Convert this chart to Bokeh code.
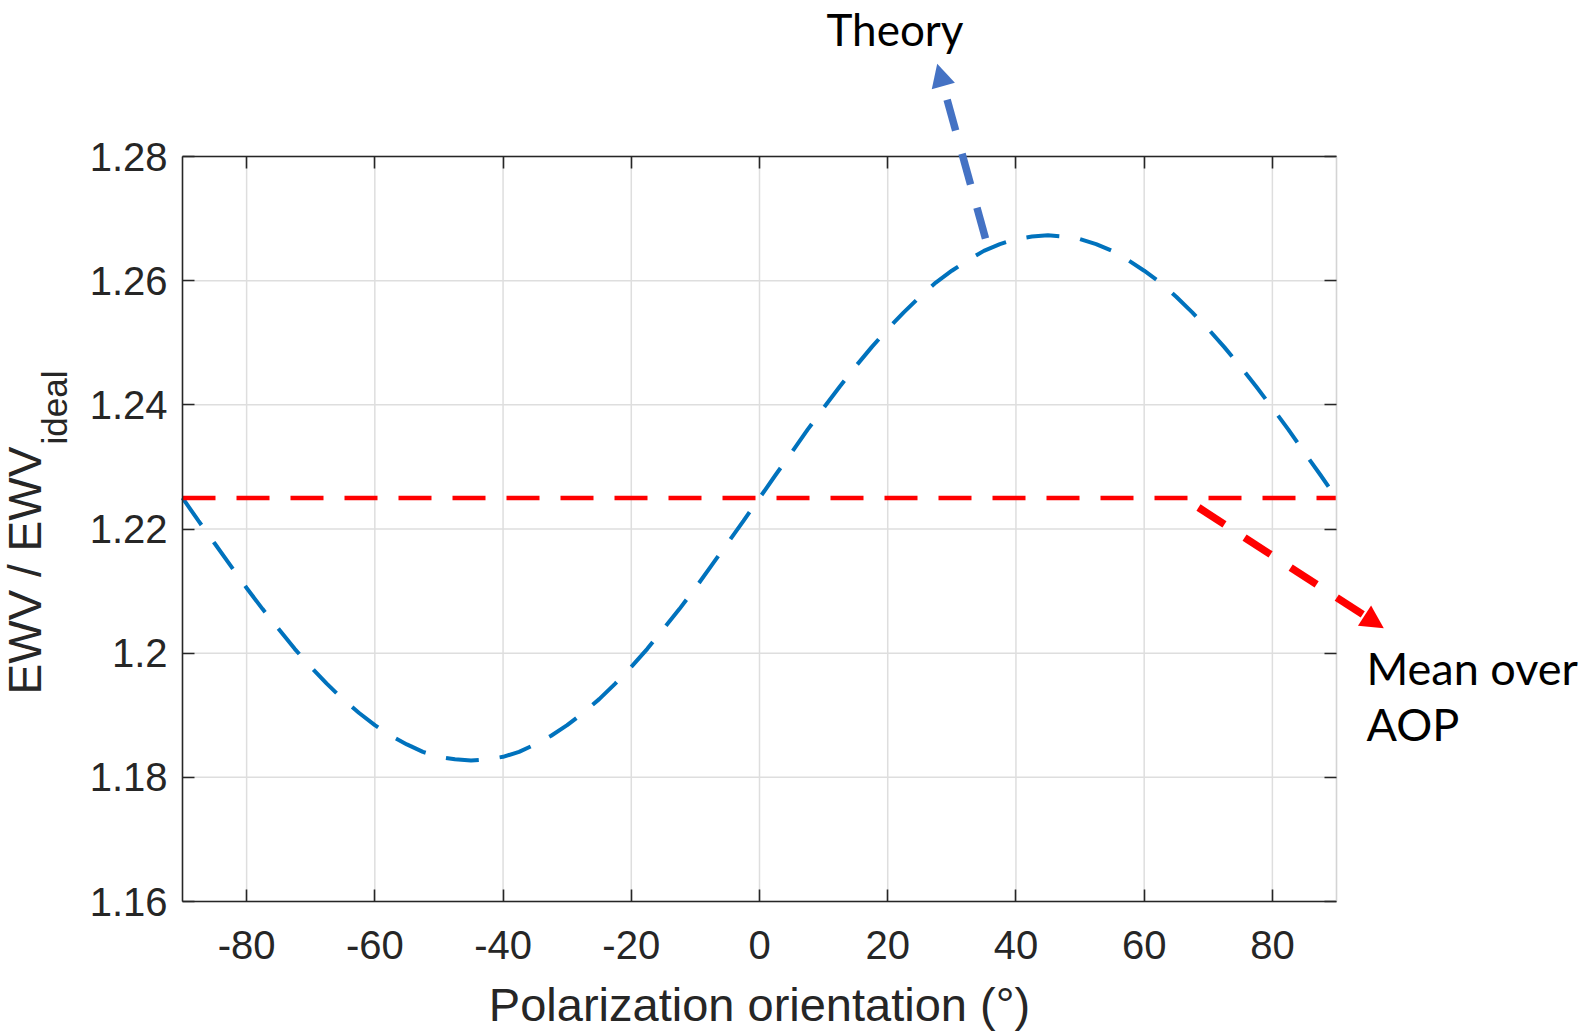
import math
from bokeh.plotting import figure
from bokeh.models import (LinearAxis, FixedTicker, Label, PolyAnnotation,
                          CustomJSTickFormatter, Range1d)
from bokeh.embed import file_html
from bokeh.resources import INLINE

# ---------------- data ----------------
theta_deg = [-90, -87.5, -85, -82.5, -80, -77.5, -75, -72.5, -70, -67.5, -65, -62.5,
             -60, -57.5, -55, -52.5, -50, -47.5, -45, -42.5, -40, -37.5, -35, -32.5,
             -30, -27.5, -25, -22.5, -20, -17.5, -15, -12.5, -10, -7.5, -5, -2.5,
             0, 2.5, 5, 7.5, 10, 12.5, 15, 17.5, 20, 22.5, 25, 27.5, 30, 32.5, 35,
             37.5, 40, 42.5, 45, 47.5, 50, 52.5, 55, 57.5, 60, 62.5, 65, 67.5, 70,
             72.5, 75, 77.5, 80, 82.5, 85, 87.5, 90]
ewv_ratio = [1.2250, 1.2213, 1.2177, 1.2141, 1.2105, 1.2071, 1.2039, 1.2007, 1.1978,
             1.1951, 1.1926, 1.1904, 1.1884, 1.1867, 1.1853, 1.1841, 1.1833, 1.1829,
             1.1827, 1.1829, 1.1833, 1.1841, 1.1853, 1.1867, 1.1884, 1.1904, 1.1926,
             1.1951, 1.1978, 1.2007, 1.2039, 1.2071, 1.2105, 1.2141, 1.2177, 1.2213,
             1.2250, 1.2287, 1.2323, 1.2360, 1.2395, 1.2429, 1.2462, 1.2493, 1.2522,
             1.2549, 1.2574, 1.2597, 1.2616, 1.2633, 1.2648, 1.2659, 1.2667, 1.2671,
             1.2673, 1.2671, 1.2667, 1.2659, 1.2648, 1.2633, 1.2616, 1.2597, 1.2574,
             1.2549, 1.2522, 1.2493, 1.2462, 1.2429, 1.2395, 1.2360, 1.2323, 1.2287,
             1.2250]
mean_over_aop = 1.225

x_ticks = [-80, -60, -40, -20, 0, 20, 40, 60, 80]
x_tick_labels = ["-80", "-60", "-40", "-20", "0", "20", "40", "60", "80"]
y_ticks = [1.16, 1.18, 1.2, 1.22, 1.24, 1.26, 1.28]
y_tick_labels = ["1.16", "1.18", "1.2", "1.22", "1.24", "1.26", "1.28"]

x_label = "Polarization orientation (°)"
y_label_main = "EWV / EWV"
y_label_sub = "ideal"
theory_text = "Theory"
mean_text_lines = ["Mean over", "AOP"]

# ---------------- layout / styles ----------------
W, H = 1582, 1033
FL, FT, FW, FH = 182, 156, 1154, 745          # axes box in canvas pixels
X0, X1, Y0, Y1 = -90, 90, 1.16, 1.28          # axes limits

AX = "#262626"
GRID = "#dedede"
BLUE = "#0072BD"
RED = "#FF0000"
ARROW_BLUE = "#4472C4"
TICK_FONT = "Liberation Sans"
NOTE_FONT = "Lato"


def px_to_data(px, py):
    """Canvas pixel -> data coordinates (used only to place decorations)."""
    return (X0 + (px - FL) * (X1 - X0) / FW, Y1 - (py - FT) * (Y1 - Y0) / FH)


# The plotting frame covers the whole canvas so that the texts and callouts
# outside the axes box are not clipped; the axes are pinned to the box edges.
xr = Range1d(px_to_data(0, 0)[0], px_to_data(W, 0)[0])
yr = Range1d(px_to_data(0, H)[1], px_to_data(0, 0)[1])

p = figure(width=W, height=H, x_range=xr, y_range=yr,
           x_axis_location=None, y_axis_location=None,
           output_backend="svg", toolbar_location=None, min_border=0,
           background_fill_color="white", border_fill_color="white")
p.outline_line_color = None
p.grid.visible = False


def style_axis(ax, line_color=AX):
    ax.axis_line_color = line_color
    ax.axis_line_width = 1.6
    ax.major_tick_line_color = AX
    ax.major_tick_line_width = 1.6
    ax.major_tick_in = 12
    ax.major_tick_out = 0
    ax.minor_tick_in = 0
    ax.minor_tick_out = 0
    ax.major_label_text_color = AX
    ax.major_label_text_font = TICK_FONT


# grid lines at the tick positions, inside the axes box
p.segment(x0=x_ticks, y0=[Y0] * len(x_ticks), x1=x_ticks, y1=[Y1] * len(x_ticks),
          line_color=GRID, line_width=1.5)
p.segment(x0=[X0] * len(y_ticks), y0=y_ticks, x1=[X1] * len(y_ticks), y1=y_ticks,
          line_color=GRID, line_width=1.5)

# axes
xa = LinearAxis(ticker=FixedTicker(ticks=x_ticks), fixed_location=Y0, bounds=(X0, X1))
xa.major_label_overrides = {t: l for t, l in zip(x_ticks, x_tick_labels)}
style_axis(xa)
xa.major_label_text_font_size = "40px"
xa.major_label_standoff = 29
xa.axis_label = x_label
xa.axis_label_text_font = TICK_FONT
xa.axis_label_text_font_size = "47px"
xa.axis_label_text_font_style = "normal"
xa.axis_label_text_color = AX
xa.axis_label_standoff = 16
p.add_layout(xa, "below")

ya = LinearAxis(ticker=FixedTicker(ticks=y_ticks), fixed_location=X0, bounds=(Y0, Y1))
ya.major_label_overrides = {t: l for t, l in zip(y_ticks, y_tick_labels)}
style_axis(ya)
ya.major_label_text_font_size = "40px"
ya.major_label_standoff = 15
p.add_layout(ya, "left")

blank = CustomJSTickFormatter(code="return ''")
top_ax = LinearAxis(ticker=FixedTicker(ticks=x_ticks), formatter=blank,
                    fixed_location=Y1, bounds=(X0, X1))
style_axis(top_ax)
top_ax.major_label_text_font_size = "1px"
p.add_layout(top_ax, "above")

right_ax = LinearAxis(ticker=FixedTicker(ticks=y_ticks), formatter=blank,
                      fixed_location=X1, bounds=(Y0, Y1))
style_axis(right_ax, line_color="#d4d4d4")
right_ax.major_label_text_font_size = "1px"
p.add_layout(right_ax, "right")

# ---------------- data marks ----------------
p.line(theta_deg, ewv_ratio, line_color=BLUE, line_width=4, line_dash="33 21")
p.line([X0, X1], [mean_over_aop, mean_over_aop], line_color=RED, line_width=4.5,
       line_dash="33 21")


# ---------------- text ----------------
def add_label(px, py, text, font, size, color="black", align="left", angle=0.0):
    x, y = px_to_data(px, py)
    p.add_layout(Label(x=x, y=y, text=text, text_font=font, text_font_size=size,
                       text_color=color, text_align=align, text_baseline="alphabetic",
                       angle=angle))


add_label(24, 694, y_label_main, TICK_FONT, "46px", AX, angle=math.pi / 2)
add_label(54, 444, y_label_sub, TICK_FONT, "35px", AX, angle=math.pi / 2)
add_label(826, 28, theory_text, NOTE_FONT, "44px")
add_label(1366, 667, mean_text_lines[0], NOTE_FONT, "45px")
add_label(1366, 723, mean_text_lines[1], NOTE_FONT, "45px")


# ---------------- dashed callout arrows (drawn as filled shapes) ----------------
def dashed_arrow(sx, sy, tx, ty, color, dash, gap, thick, head_len, head_w):
    dx, dy = tx - sx, ty - sy
    L = math.hypot(dx, dy)
    ux, uy = dx / L, dy / L
    nx, ny = -uy, ux
    body = L - head_len
    pos = 0.0
    while pos < body - 4:
        a, b = pos, min(pos + dash, body)
        pts = [(sx + ux * a + nx * thick / 2, sy + uy * a + ny * thick / 2),
               (sx + ux * b + nx * thick / 2, sy + uy * b + ny * thick / 2),
               (sx + ux * b - nx * thick / 2, sy + uy * b - ny * thick / 2),
               (sx + ux * a - nx * thick / 2, sy + uy * a - ny * thick / 2)]
        d = [px_to_data(*q) for q in pts]
        p.add_layout(PolyAnnotation(xs=[q[0] for q in d], ys=[q[1] for q in d],
                                    fill_color=color, fill_alpha=1.0, line_color=None))
        pos += dash + gap
    bx, by = sx + ux * body, sy + uy * body
    tri = [(tx, ty), (bx + nx * head_w / 2, by + ny * head_w / 2),
           (bx - nx * head_w / 2, by - ny * head_w / 2)]
    d = [px_to_data(*q) for q in tri]
    p.add_layout(PolyAnnotation(xs=[q[0] for q in d], ys=[q[1] for q in d],
                                fill_color=color, fill_alpha=1.0, line_color=None))


dashed_arrow(985, 238, 936.7, 63.3, ARROW_BLUE, 32, 24, 7.5, 23, 24)
dashed_arrow(1198, 507, 1383.3, 627.7, RED, 31, 24, 7.5, 23, 24)

open("out.html", "w").write(file_html(p, INLINE))
